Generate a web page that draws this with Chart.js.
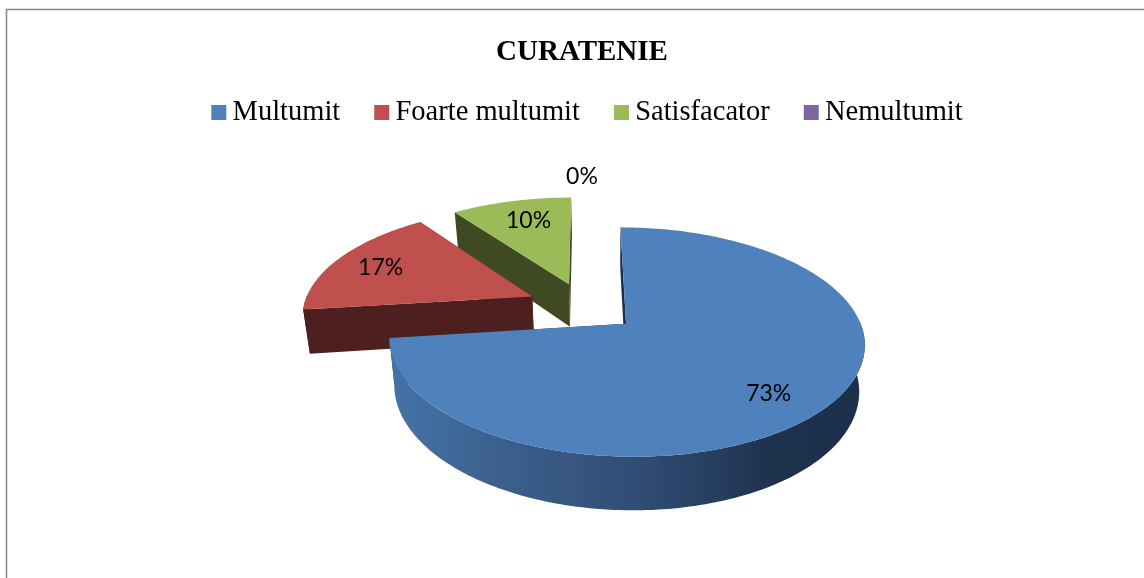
<!DOCTYPE html>
<html>
<head>
<meta charset="utf-8">
<title>CURATENIE</title>
<script src="https://cdn.jsdelivr.net/npm/chart.js@4/dist/chart.umd.js"></script>
<style>
    html, body { margin: 0; padding: 0; background: #fff; }
    canvas { display: block; }
</style>
</head>
<body>
<canvas id="pieChart" width="1144" height="578"></canvas>
<script>
const titleText = 'CURATENIE';
const categories = ['Multumit', 'Foarte multumit', 'Satisfacator', 'Nemultumit'];
const values = [73, 17, 10, 0];
const percentLabels = ['73%', '17%', '10%', '0%'];

const topColors = ['#4F81BD', '#C0504D', '#9BBB59', '#8064A2'];
const wallColors = ['#1D304B', '#4D1F1E', '#3F4A23', '#3A2D4B'];

// How the flat pie is tilted onto the page
const view = { x0: 585, y0: 307, rx: 229, ry: 106.5, persp: 0.155, depth: 44, squeeze: 0.978, xv: 610 };

// Label position along each slice, fraction of radius, then a small pixel nudge
const labelRadius = [0.74, 0.79, 0.8, 1.3];
const labelNudge = [[-2, 10], [2, 2], [7, 4], [-3, 2]];

function project(X, Z) {
    const s = 1 / (1 - view.persp * Z);
    return { x: view.x0 + view.rx * X * s, y: view.y0 + view.ry * Z * s, s: s };
}

function bottomOf(p) {
    return { x: p.x - (p.x - view.xv) * (1 - view.squeeze), y: p.y + view.depth * p.s };
}

function tracePath(ctx, pts) {
    ctx.beginPath();
    pts.forEach((p, i) => i ? ctx.lineTo(p.x, p.y) : ctx.moveTo(p.x, p.y));
    ctx.closePath();
}

function sliceGeometry(arc) {
    const mid = (arc.startAngle + arc.endAngle) / 2;
    const e = arc.options.offset / arc.outerRadius;
    const ax = Math.cos(mid) * e;
    const az = Math.sin(mid) * e;
    const rim = [];
    const steps = Math.max(2, Math.ceil((arc.endAngle - arc.startAngle) / 0.02));
    for (let i = 0; i <= steps; i++) {
        const a = arc.startAngle + (arc.endAngle - arc.startAngle) * i / steps;
        rim.push({ a: a, p: project(ax + Math.cos(a), az + Math.sin(a)) });
    }
    return { mid, ax, az, apex: project(ax, az), rim };
}

function drawSlice(ctx, arc, i) {
    if (arc.endAngle - arc.startAngle <= 0) return;
    const g = sliceGeometry(arc);
    const rim = g.rim.map(r => r.p);

    // cut faces
    [rim[0], rim[rim.length - 1]].forEach(p => {
        tracePath(ctx, [g.apex, p, bottomOf(p), bottomOf(g.apex)]);
        ctx.fillStyle = wallColors[i];
        ctx.fill();
    });

    // outer wall, only where it faces the viewer
    const front = g.rim.filter(r => Math.sin(r.a) > -0.02).map(r => r.p);
    if (front.length > 1) {
        tracePath(ctx, front.concat(front.map(bottomOf).reverse()));
        if (i === 0) {
            const grad = ctx.createLinearGradient(395, 0, 860, 0);
            grad.addColorStop(0, '#4572A7');
            grad.addColorStop(0.25, '#3C5E8B');
            grad.addColorStop(0.55, '#2F4B72');
            grad.addColorStop(0.82, '#1E314D');
            grad.addColorStop(1, '#1D304B');
            ctx.fillStyle = grad;
        } else {
            ctx.fillStyle = wallColors[i];
        }
        ctx.fill();
    }

    // top face
    tracePath(ctx, [g.apex].concat(rim));
    ctx.fillStyle = topColors[i];
    ctx.fill();
}

const tiltedPie = {
    id: 'tiltedPie',
    afterLayout(chart) {
        // legend sits a little right of the title in the reference, and close under it
        chart.legend.left += 5;
        chart.legend.right += 5;
        chart.legend.top -= 26;
        chart.legend.bottom -= 26;
    },
    beforeDraw(chart) {
        const ctx = chart.ctx;
        ctx.save();
        ctx.strokeStyle = '#868686';
        ctx.lineWidth = 1.5;
        ctx.beginPath();
        ctx.moveTo(6.5, 578);
        ctx.lineTo(6.5, 9.5);
        ctx.lineTo(1144, 9.5);
        ctx.stroke();
        ctx.restore();
    },
    beforeDatasetDraw(chart) {
        const ctx = chart.ctx;
        const arcs = chart.getDatasetMeta(0).data;
        // far slices first so the big one covers them
        ctx.save();
        [2, 1, 0].forEach(i => drawSlice(ctx, arcs[i], i));
        ctx.fillStyle = '#000';
        ctx.font = '23px Lato';
        ctx.textAlign = 'center';
        ctx.textBaseline = 'middle';
        arcs.forEach((arc, i) => {
            const g = sliceGeometry(arc);
            const p = project(g.ax + Math.cos(g.mid) * labelRadius[i], g.az + Math.sin(g.mid) * labelRadius[i]);
            ctx.fillText(percentLabels[i], p.x + labelNudge[i][0], p.y + labelNudge[i][1]);
        });
        ctx.restore();
        return false;
    }
};

// legend swatch: the square sits in a wider canvas so the text comes close to it
function swatch(color) {
    const c = document.createElement('canvas');
    c.width = 31;
    c.height = 15;
    const g = c.getContext('2d');
    g.fillStyle = color;
    g.fillRect(12, 0, 15, 15);
    return c;
}

new Chart(document.getElementById('pieChart').getContext('2d'), {
    type: 'pie',
    data: {
        labels: categories,
        datasets: [{
            data: values,
            backgroundColor: topColors,
            borderWidth: 0,
            offset: [43, 47, 43, 43],
        }]
    },
    plugins: [tiltedPie],
    options: {
        responsive: false,
        animation: false,
        layout: { padding: { left: 20, right: 0, top: 35, bottom: 0 } },
        plugins: {
            title: {
                display: true,
                text: titleText,
                color: '#000',
                font: { family: '"Liberation Serif"', size: 29, weight: 'bold' },
                padding: { top: 0, bottom: 20 },
            },
            legend: {
                display: true,
                position: 'top',
                labels: {
                    color: '#000',
                    font: { family: '"Liberation Serif"', size: 28.5 },
                    usePointStyle: true,
                    pointStyleWidth: 7,
                    boxHeight: 15,
                    padding: 34,
                    generateLabels: () => categories.map((name, i) => ({
                        text: name,
                        fillStyle: topColors[i],
                        strokeStyle: topColors[i],
                        lineWidth: 0,
                        pointStyle: swatch(topColors[i]),
                        index: i,
                    })),
                }
            },
            tooltip: { enabled: false },
        }
    }
});
</script>
</body>
</html>
